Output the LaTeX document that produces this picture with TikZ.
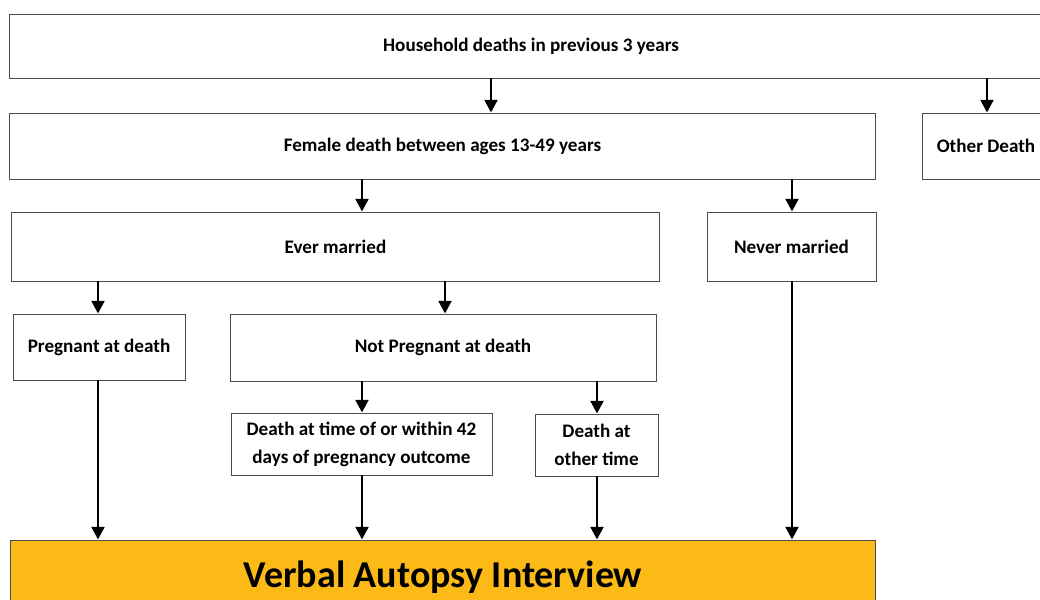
\documentclass[tikz,border=0pt]{standalone}
\usepackage{fontspec}
\setmainfont{Carlito}
\usetikzlibrary{arrows.meta}

\definecolor{vaorange}{HTML}{FBBA16}
\tikzset{
  box/.style={draw=black!70, line width=0.6pt, fill=white, inner sep=2pt,
              align=center, font=\bfseries\fontsize{13.6}{20}\selectfont},
  arr/.style={line width=2.1pt, -{Triangle[length=0.32cm, width=0.32cm]}},
}

\begin{document}
\begin{tikzpicture}[x=0.025cm, y=-0.025cm]
			%%%%% frame %%%%%
			\useasboundingbox (0,0) rectangle (1040,599);
			\clip (0,0) rectangle (1040,599);
			\fill[white] (0,0) rectangle (1040,599);
			
			%%%%% boxes %%%%%
			\node[box, minimum width=26.05cm, minimum height=1.6cm] (hh) at (531,46) {Household deaths in previous 3 years};
			
			\node[box, minimum width=21.625cm, minimum height=1.65cm] (fem) at (442.5,146) {Female death between ages 13-49 years};
			\node[box, minimum width=3.2cm, minimum height=1.65cm] (oth) at (986,146) {Other Death};
			
			\node[box, minimum width=16.175cm, minimum height=1.725cm] (ever) at (335.5,246.5) {Ever married};
			\node[box, minimum width=4.225cm, minimum height=1.725cm] (never) at (791.5,246.5) {Never married};
			
			\node[box, minimum width=4.3cm, minimum height=1.65cm] (preg) at (99,347) {Pregnant at death};
			\node[box, minimum width=10.65cm, minimum height=1.675cm] (notp) at (443,347.5) {Not Pregnant at death};
			
			\node[box, minimum width=6.525cm, minimum height=1.55cm] (dwin) at (361.5,444) {Death at time of or within 42\\days of pregnancy outcome};
			\node[box, minimum width=3.075cm, minimum height=1.55cm] (doth) at (596.5,445) {Death at\\other time};
			
			\node[box, fill=vaorange, minimum width=21.6cm, minimum height=1.875cm,
			      font=\bfseries\fontsize{27}{32}\selectfont] (va) at (443,577.5) {Verbal Autopsy Interview};
			
			%%%%% arrow columns %%%%%
			\coordinate (x98) at (98,0);
			\coordinate (x362) at (362,0);
			\coordinate (x445) at (445,0);
			\coordinate (x491) at (491,0);
			\coordinate (x597) at (597,0);
			\coordinate (x792) at (792,0);
			\coordinate (x987) at (987,0);
			
			%%%%% arrows %%%%%
			\draw[arr] (hh.south -| x491) -- (fem.north -| x491);
			\draw[arr] (hh.south -| x987) -- (oth.north -| x987);
			
			\draw[arr] (fem.south -| x362) -- (ever.north -| x362);
			\draw[arr] (fem.south -| x792) -- (never.north -| x792);
			
			\draw[arr] (ever.south -| x98) -- (preg.north -| x98);
			\draw[arr] (ever.south -| x445) -- (notp.north -| x445);
			
			\draw[arr] (notp.south -| x362) -- (dwin.north -| x362);
			\draw[arr] (notp.south -| x597) -- (doth.north -| x597);
			
			\draw[arr] (preg.south -| x98) -- (va.north -| x98);
			\draw[arr] (dwin.south -| x362) -- (va.north -| x362);
			\draw[arr] (doth.south -| x597) -- (va.north -| x597);
			\draw[arr] (never.south -| x792) -- (va.north -| x792);
			
		\end{tikzpicture}
\end{document}
